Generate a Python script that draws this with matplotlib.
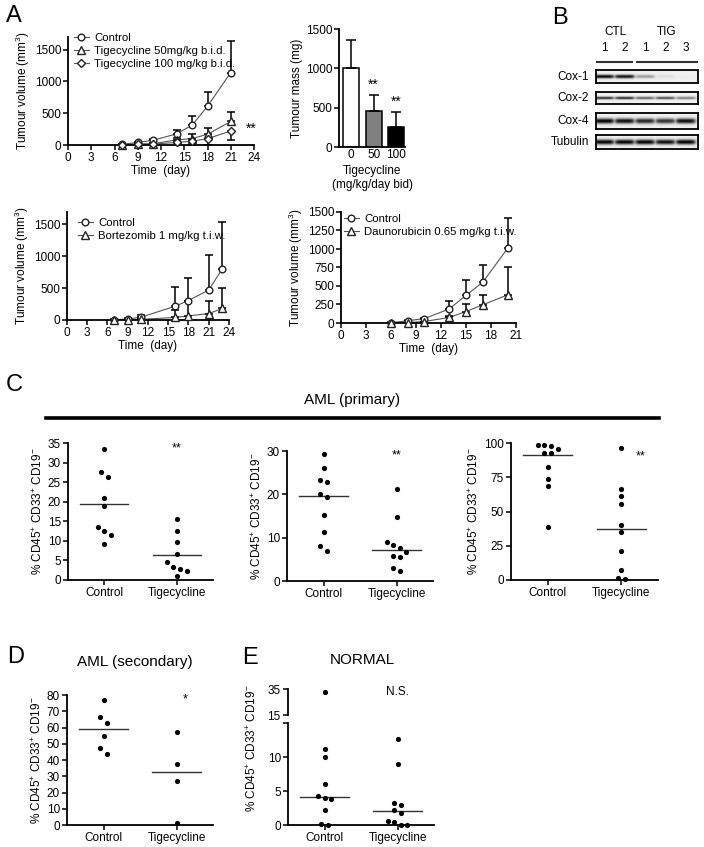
import numpy as np
import matplotlib
matplotlib.use('Agg')
import matplotlib.pyplot as plt
from matplotlib.lines import Line2D

plt.rcParams['font.family'] = ['Liberation Sans', 'DejaVu Sans']
plt.rcParams['mathtext.default'] = 'regular'

# ---------------- data ----------------
# A: tigecycline xenograft growth (mean, upper error)
tig_days = [7, 9, 11, 14, 16, 18, 21]
tig_ctrl = [10, 40, 75, 175, 310, 610, 1140]
tig_ctrl_err = [10, 10, 15, 55, 140, 220, 500]
tig50 = [5, 15, 20, 80, 100, 170, 370]
tig50_err = [15, 10, 15, 30, 70, 100, 150]
tig100 = [5, 10, 15, 40, 60, 100, 220]
tig100_err = [5, 5, 10, 35, 60, 100, 145]

# A: tumour mass
mass_doses = ['0', '50', '100']
mass_mean = [1000, 460, 260]
mass_err = [360, 200, 190]

# A: bortezomib
bort_days = [7, 9, 11, 16, 18, 21, 23]
bort_ctrl = [5, 15, 45, 215, 305, 470, 800]
bort_ctrl_err = [10, 15, 35, 295, 345, 540, 740]
bort = [0, 0, 10, 40, 65, 100, 180]
bort_err = [0, 0, 10, 110, 225, 200, 320]

# A: daunorubicin
dauno_days = [6, 8, 10, 13, 15, 17, 20]
dauno_ctrl = [5, 30, 60, 190, 375, 550, 1010]
dauno_ctrl_err = [5, 10, 10, 110, 200, 240, 410]
dauno = [0, 5, 20, 75, 155, 245, 380]
dauno_err = [0, 0, 0, 20, 100, 130, 380]

# B: western blot band intensities (lanes CTL1, CTL2, TIG1, TIG2, TIG3)
blot_rows = ['Cox-1', 'Cox-2', 'Cox-4', 'Tubulin']
blot_bands = [[1.0, 0.95, 0.35, 0.08, 0.02],
              [0.85, 0.85, 0.6, 0.7, 0.5],
              [1.0, 0.95, 0.85, 0.8, 0.95],
              [1.0, 1.0, 1.0, 0.95, 1.0]]
lane_labels = ['1', '2', '1', '2', '3']

# C: AML primary
groups = ['Control', 'Tigecycline']
c1_ctrl = [33.4, 27.6, 26.2, 20.9, 19.0, 13.6, 12.5, 11.4, 9.3]
c1_tig = [15.7, 12.4, 9.6, 6.6, 4.7, 3.2, 2.8, 2.4, 0.9]
c1_lines = [19.4, 6.5]
c2_ctrl = [29.3, 26.0, 23.2, 22.8, 20.0, 19.3, 15.2, 11.2, 8.0, 7.0]
c2_tig = [21.3, 14.8, 9.0, 8.4, 7.6, 6.6, 5.8, 5.6, 3.0, 2.3]
c2_lines = [19.7, 7.1]
c3_ctrl = [98.8, 98.5, 97.8, 95.8, 92.6, 92.6, 82.7, 73.5, 68.3, 38.5]
c3_tig = [96.5, 66.6, 61.5, 55.8, 40.0, 35.0, 21.0, 7.5, 1.5, 1.0]
c3_lines = [91.5, 37.5]

# D: AML secondary
d_ctrl = [77.0, 66.5, 63.0, 54.5, 47.5, 43.5]
d_tig = [57.5, 37.7, 27.0, 1.5]
d_lines = [59.0, 32.5]

# E: normal
e_ctrl = [33.5, 11.2, 10.0, 6.1, 4.2, 4.0, 3.8, 2.2, 0.1, 0.05]
e_tig = [12.7, 9.0, 3.2, 3.0, 2.2, 1.8, 0.6, 0.4, 0.05, 0.0]
e_lines = [4.1, 2.0]

# ---------------- helpers ----------------
W, H = 704, 847
fig = plt.figure(figsize=(W / 100, H / 100), dpi=100)


def px_axes(l, t, r, b):
    return fig.add_axes([l / W, 1 - b / H, (r - l) / W, (b - t) / H])


def fx(x):
    return x / W


def fy(y):
    return 1 - y / H


def prism(ax, fs=8.5):
    for s in ['top', 'right']:
        ax.spines[s].set_visible(False)
    for s in ['left', 'bottom']:
        ax.spines[s].set_linewidth(1.3)
    ax.tick_params(direction='out', length=3.5, width=1.1, labelsize=fs, pad=1.5)


def swarm(vals, thr, step=0.09, maxn=4):
    v = np.asarray(vals, float)
    order = np.argsort(-v, kind='stable')
    offs = np.zeros(len(v))
    grps, cur = [], [order[0]]
    for a, b in zip(order[:-1], order[1:]):
        if v[cur[-1]] - v[b] < thr and len(cur) < maxn:
            cur.append(b)
        else:
            grps.append(cur)
            cur = [b]
    grps.append(cur)
    for g in grps:
        n = len(g)
        offs[g] = (np.arange(n) - (n - 1) / 2) * step
    return offs


def growth(ax, days, series, xmax, ymax, yticks):
    for y, err, mk, ms, down in series:
        ax.plot(days, y, color='#555555', lw=0.8, zorder=2)
        yerr = [err, np.zeros(len(err))] if down else [np.zeros(len(err)), err]
        ax.errorbar(days, y, yerr=yerr, fmt='none', ecolor='k', elinewidth=1.1,
                    capsize=3, capthick=1.1, zorder=3)
        ax.plot(days, y, ls='none', marker=mk, ms=ms, mfc='white', mec='#222222',
                mew=1.0, zorder=4, clip_on=False)
    ax.set_xlim(0, xmax)
    ax.set_ylim(0, ymax)
    ax.set_xticks(np.arange(0, xmax + 1, 3))
    ax.set_yticks(yticks)
    ax.set_xlabel('Time  (day)', fontsize=8.5, labelpad=1)
    ax.set_ylabel('Tumour volume (mm$^3$)', fontsize=8.5, labelpad=2)
    prism(ax)


def dots(ax, ctrl, tig, lines, ymax, thr):
    for i, vals in enumerate([ctrl, tig]):
        xo = swarm(vals, thr)
        ax.scatter(i + xo, vals, s=14, color='k', zorder=3, clip_on=False, lw=0)
        ax.plot([i - 0.33, i + 0.33], [lines[i], lines[i]], color='#333333', lw=1.0)
    ax.set_xlim(-0.5, 1.5)
    ax.set_ylim(0, ymax)
    ax.set_xticks([0, 1])
    ax.set_xticklabels(groups, fontsize=8.5)
    ax.set_ylabel('% CD45$^{+}$ CD33$^{+}$ CD19$^{-}$', fontsize=8.5, labelpad=2)
    prism(ax)


MK = [('o', 4.8), ('^', 5.2), ('D', 4.0)]
leg_kw = dict(bbox_transform=fig.transFigure, loc='upper left', frameon=False, fontsize=8.2,
              handlelength=1.3, handletextpad=0.5, labelspacing=0.25, borderpad=0,
              borderaxespad=0)

# ---------------- A: tigecycline growth ----------------
ax = px_axes(68, 37, 254, 145)
growth(ax, tig_days, [(tig_ctrl, tig_ctrl_err, MK[0][0], MK[0][1], False),
                      (tig50, tig50_err, MK[1][0], MK[1][1], False),
                      (tig100, tig100_err, MK[2][0], MK[2][1], True)],
       24, 1700, [0, 500, 1000, 1500])
hs = [Line2D([], [], color='#555555', lw=0.8, marker=m, ms=s, mfc='white', mec='#222222')
      for m, s in MK]
ax.legend(hs, ['Control', 'Tigecycline 50mg/kg b.i.d.', 'Tigecycline 100 mg/kg b.i.d.'],
          bbox_to_anchor=(fx(74), fy(33)), **leg_kw)
ax.text(22.9, 250, '**', fontsize=10, va='center')

# ---------------- A: tumour mass ----------------
ax = px_axes(339, 29, 405, 147)
xb = np.arange(len(mass_doses))
ax.bar(xb, mass_mean, width=0.7, color=['white', '#808080', 'black'], edgecolor='k', lw=1.1,
       zorder=2)
ax.errorbar(xb, mass_mean, yerr=[np.zeros(3), mass_err], fmt='none', ecolor='k',
            elinewidth=1.1, capsize=3.5, capthick=1.1)
for i in [1, 2]:
    ax.text(xb[i], mass_mean[i] + mass_err[i] + 40, '**', ha='center', va='bottom', fontsize=10)
ax.set_xlim(-0.55, 2.4)
ax.set_ylim(0, 1500)
ax.set_yticks([0, 500, 1000, 1500])
ax.set_xticks(xb)
ax.set_xticklabels(mass_doses)
ax.set_xlabel('Tigecycline\n(mg/kg/day bid)', fontsize=8.5, labelpad=3, linespacing=1.2)
ax.set_ylabel('Tumour mass (mg)', fontsize=8.5, labelpad=2)
prism(ax)
ax.tick_params(axis='x', length=0)

# ---------------- B: western blot ----------------
strips = [(70, 83, 0.28), (92, 104, 0.22), (113, 129, 0.33), (135, 149, 0.36)]
xx = np.linspace(0, 1, 300)
centers = (np.arange(5) + 0.4) / 5
for (t, b, thick), name, bands in zip(strips, blot_rows, blot_bands):
    bx = px_axes(596, t, 698, b)
    yy = np.linspace(-1, 1, 40)[:, None]
    prof = np.zeros_like(xx)
    for c, a in zip(centers, bands):
        prof = np.maximum(prof, a * np.exp(-((xx - c) / 0.1) ** 6))
    img = prof[None, :] * np.exp(-(yy / thick) ** 2) + 0.06
    bx.imshow(img, cmap='gray_r', vmin=0, vmax=1.05, aspect='auto',
              extent=[0, 1, 0, 1], interpolation='bilinear')
    bx.set_xticks([])
    bx.set_yticks([])
    for s in bx.spines.values():
        s.set_linewidth(1.3)
    fig.text(fx(589), fy((t + b) / 2), name, ha='right', va='center', fontsize=8.5)
fig.text(fx(615), fy(32), 'CTL', ha='center', va='center', fontsize=8.5)
fig.text(fx(667), fy(32), 'TIG', ha='center', va='center', fontsize=8.5)
for c, lab in zip(centers, lane_labels):
    fig.text(fx(596 + c * 102), fy(48), lab, ha='center', va='center', fontsize=8.5)
fig.add_artist(Line2D([fx(597), fx(632)], [fy(62), fy(62)], color='#333333', lw=1.5))
fig.add_artist(Line2D([fx(637), fx(697)], [fy(62), fy(62)], color='#333333', lw=1.5))

# ---------------- A: bortezomib ----------------
ax = px_axes(67, 212, 229, 320)
growth(ax, bort_days, [(bort_ctrl, bort_ctrl_err, MK[0][0], MK[0][1], False),
                       (bort, bort_err, MK[1][0], MK[1][1], False)],
       24, 1690, [0, 500, 1000, 1500])
ax.legend(hs[:2], ['Control', 'Bortezomib 1 mg/kg t.i.w.'],
          bbox_to_anchor=(fx(78), fy(218)), **leg_kw)

# ---------------- A: daunorubicin ----------------
ax = px_axes(341, 212, 516, 323)
growth(ax, dauno_days, [(dauno_ctrl, dauno_ctrl_err, MK[0][0], MK[0][1], False),
                        (dauno, dauno_err, MK[1][0], MK[1][1], False)],
       21, 1500, np.arange(0, 1501, 250))
ax.legend(hs[:2], ['Control', 'Daunorubicin 0.65 mg/kg t.i.w.'],
          bbox_to_anchor=(fx(344), fy(214)), **leg_kw)

# ---------------- C ----------------
fig.text(fx(352), fy(400), 'AML (primary)', ha='center', va='center', fontsize=11)
fig.add_artist(Line2D([fx(46), fx(659)], [fy(418), fy(418)], color='k', lw=2.6))

ax = px_axes(68, 443, 213, 580)
dots(ax, c1_ctrl, c1_tig, c1_lines, 35, 1.6)
ax.set_yticks(np.arange(0, 36, 5))
ax.text(1, 33.5, '**', ha='center', va='center', fontsize=9)

ax = px_axes(287, 451, 433, 581)
dots(ax, c2_ctrl, c2_tig, c2_lines, 30, 1.4)
ax.set_yticks([0, 10, 20, 30])
ax.text(1, 29, '**', ha='center', va='center', fontsize=9)

ax = px_axes(511, 443, 658, 580)
dots(ax, c3_ctrl, c3_tig, c3_lines, 100, 4.0)
ax.set_yticks([0, 25, 50, 75, 100])
ax.text(1.26, 90, '**', ha='center', va='center', fontsize=9)

# ---------------- D ----------------
fig.text(fx(135), fy(662), 'AML (secondary)', ha='center', va='center', fontsize=11)
ax = px_axes(67, 695, 213, 825)
dots(ax, d_ctrl, d_tig, d_lines, 80, 4.5)
ax.set_yticks(np.arange(0, 81, 10))
ax.text(1.12, 77.5, '*', ha='center', va='center', fontsize=9)

# ---------------- E ----------------
fig.text(fx(362), fy(660), 'NORMAL', ha='center', va='center', fontsize=11)
e_ctrl_a = np.array(e_ctrl)
e_tig_a = np.array(e_tig)
ax = px_axes(288, 723, 434, 825)
for i, vals in enumerate([e_ctrl_a, e_tig_a]):
    low = vals[vals <= 15]
    ax.scatter(i + swarm(low, 0.7), low, s=14, color='k', zorder=3, clip_on=False, lw=0)
    ax.plot([i - 0.33, i + 0.33], [e_lines[i]] * 2, color='#333333', lw=1.0)
ax.set_xlim(-0.5, 1.5)
ax.set_ylim(0, 15)
ax.set_yticks([0, 5, 10, 15])
ax.set_yticklabels(['0', '5', '10', ''])
ax.set_xticks([0, 1])
ax.set_xticklabels(groups, fontsize=8.5)
prism(ax)
ax.set_ylabel('% CD45$^{+}$ CD33$^{+}$ CD19$^{-}$', fontsize=8.5, labelpad=8)
ax.yaxis.set_label_coords(-0.2, 0.75)
ax.text(-0.05, 15, '15', transform=ax.get_yaxis_transform(), ha='right', va='bottom',
        fontsize=8.5)

ax2 = px_axes(288, 689, 434, 715)
for i, vals in enumerate([e_ctrl_a, e_tig_a]):
    up = vals[vals > 15]
    ax2.scatter(np.full(len(up), i), up, s=14, color='k', zorder=3, lw=0)
ax2.set_xlim(-0.5, 1.5)
ax2.set_ylim(20, 35)
ax2.set_yticks([20, 35])
ax2.set_yticklabels(['', '35'])
ax2.set_xticks([])
prism(ax2)
ax2.spines['bottom'].set_visible(False)
ax2.text(1, 33.5, 'N.S.', ha='center', va='center', fontsize=8.5)

# panel letters
for lab, x, y in [('A', 14, 16), ('B', 560, 18), ('C', 14, 385), ('D', 16, 657), ('E', 250, 658)]:
    fig.text(fx(x), fy(y), lab, ha='center', va='center', fontsize=17)

fig.savefig('out.png', dpi=100)
